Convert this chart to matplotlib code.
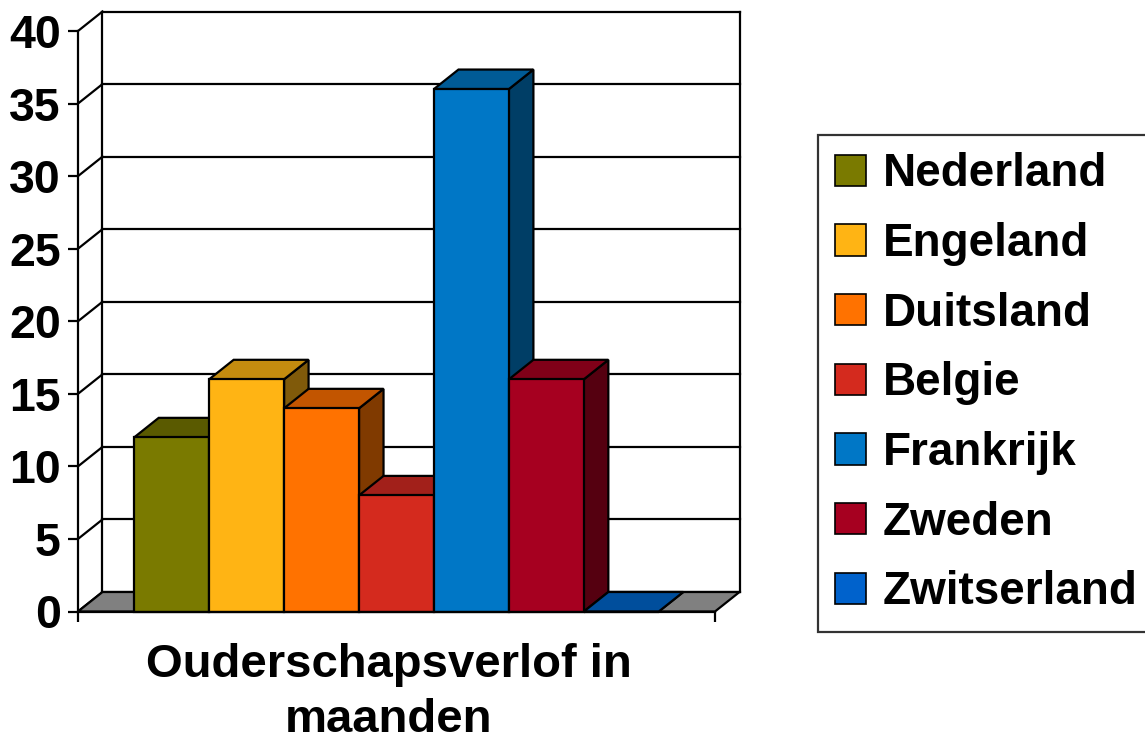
import numpy as np
import matplotlib
matplotlib.use("Agg")
import matplotlib.pyplot as plt
from matplotlib.patches import Polygon, Patch

plt.rcParams['font.family'] = ['Liberation Sans', 'DejaVu Sans']
plt.rcParams['font.weight'] = 'bold'

# --- data ---
countries = ['Nederland', 'Engeland', 'Duitsland', 'Belgie', 'Frankrijk', 'Zweden', 'Zwitserland']
months = [12, 16, 14, 8, 36, 16, 0]
front_cols = ['#7A7A00', '#FFB414', '#FF7200', '#D42A1E', '#0077C6', '#A60020', '#0062CC']
top_cols = ['#5A5A00', '#C48C0F', '#C25500', '#A2201A', '#005B96', '#800018', '#004E9C']
side_cols = ['#3F3F00', '#805A0A', '#803A00', '#6E1510', '#003E66', '#550010', '#003468']
yticks = list(range(0, 41, 5))
xlabel = 'Ouderschapsverlof in\nmaanden'

W, H = 1145, 747
fig = plt.figure(figsize=(W / 100, H / 100), dpi=100)
fig.patch.set_facecolor('white')

# front face of the plot box, in pixels
left, right, bottom, top = 78, 715, 611.5, 31
ax = fig.add_axes([left / W, 1 - bottom / H, (right - left) / W, (bottom - top) / H])
ax.patch.set_visible(False)
x0, x1 = -0.75, len(countries) + 0.75
ax.set_xlim(x0, x1)
ax.set_ylim(0, 40)

# depth offset converted to data units
px_x = (right - left) / (x1 - x0)
px_y = (bottom - top) / 40
dx = 24.5 / px_x
dy = 19.5 / px_y

lw = 1.6
# back wall and diagonals
for v in yticks:
    ax.plot([x0 + dx, x1 + dx], [v + dy, v + dy], color='black', lw=lw, zorder=1, clip_on=False)
    ax.plot([x0, x0 + dx], [v, v + dy], color='black', lw=lw, zorder=1, clip_on=False)
ax.plot([x0 + dx, x0 + dx], [dy, 40 + dy], color='black', lw=lw, zorder=1, clip_on=False)
ax.plot([x1 + dx, x1 + dx], [dy, 40 + dy], color='black', lw=lw, zorder=1, clip_on=False)

# floor
floor = Polygon([(x0, 0), (x1, 0), (x1 + dx, dy), (x0 + dx, dy)], closed=True,
                facecolor='#808080', edgecolor='black', lw=lw, zorder=2, clip_on=False)
ax.add_patch(floor)

# bars, left to right
for i, h in enumerate(months):
    side = [(i + 1, 0), (i + 1 + dx, dy), (i + 1 + dx, h + dy), (i + 1, h)]
    topf = [(i, h), (i + 1, h), (i + 1 + dx, h + dy), (i + dx, h + dy)]
    front = [(i, 0), (i + 1, 0), (i + 1, h), (i, h)]
    z = 3 + i
    for pts, c in [(side, side_cols[i]), (topf, top_cols[i]), (front, front_cols[i])]:
        ax.add_patch(Polygon(pts, closed=True, facecolor=c, edgecolor='black',
                             lw=lw, joinstyle='miter', zorder=z, clip_on=False))

# axes styling
for s in ['top', 'right']:
    ax.spines[s].set_visible(False)
for s in ['left', 'bottom']:
    ax.spines[s].set_linewidth(lw)
    ax.spines[s].set_zorder(20)
ax.set_yticks(yticks)
ax.set_yticklabels([str(v) for v in yticks])
ax.tick_params(axis='y', direction='out', length=7.5, width=lw, pad=5, labelsize=33.5)
ax.set_xticks([x0, x1])
ax.set_xticklabels(['', ''])
ax.tick_params(axis='x', direction='out', length=7.5, width=lw)
for lab in ax.get_yticklabels():
    lab.set_fontweight('bold')

fig.text(389 / W, 1 - 643 / H, xlabel, ha='center', va='top', fontsize=34,
         fontweight='bold', linespacing=1.32, multialignment='center')

handles = [Patch(facecolor=c, edgecolor='black', lw=1.2) for c in front_cols]
leg = fig.legend(handles, countries, loc='upper left', bbox_to_anchor=(818 / W, 1 - 135 / H),
                 frameon=True, fancybox=False, edgecolor='black', fontsize=33,
                 handlelength=0.66, handleheight=0.68, handletextpad=0.38,
                 labelspacing=0.56, borderpad=0.38, borderaxespad=0)
leg.get_frame().set_linewidth(1.6)
for t in leg.get_texts():
    t.set_fontweight('bold')

fig.savefig('out.png', dpi=100, facecolor='white')
